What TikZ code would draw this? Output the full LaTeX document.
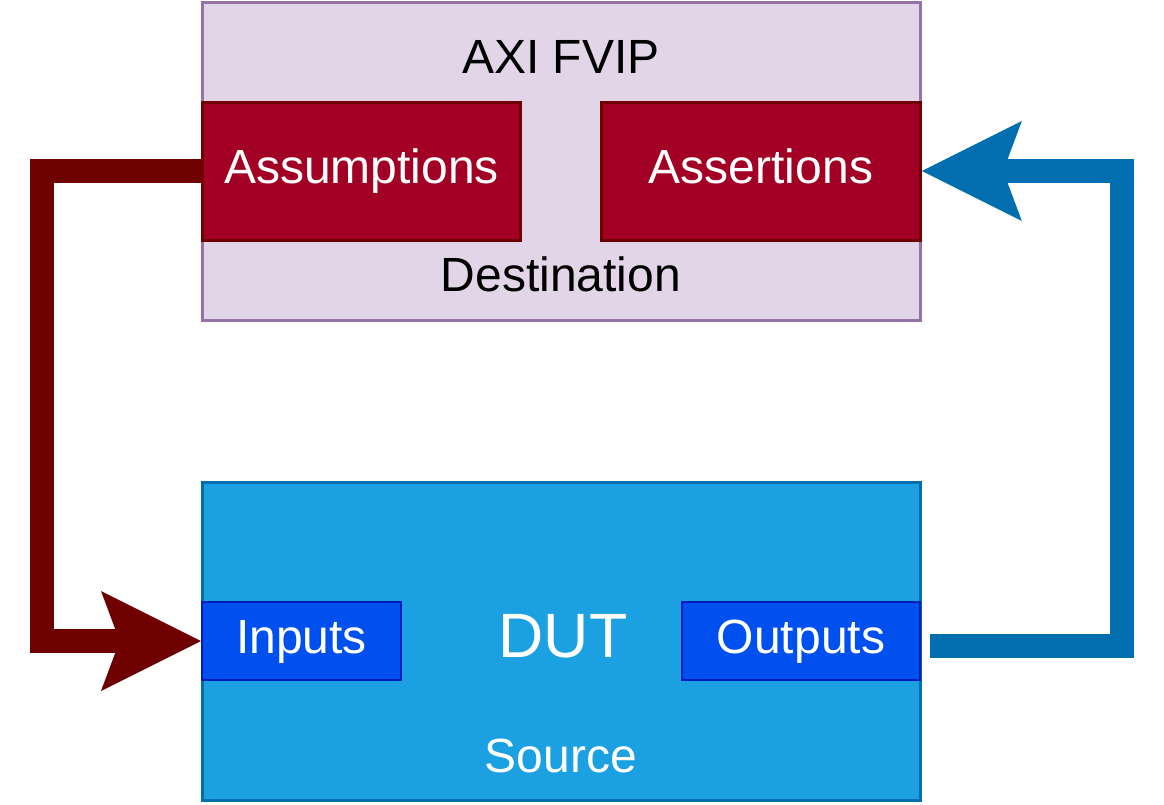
\documentclass[tikz,border=0pt]{standalone}
\usepackage{fontspec}
\setmainfont{Liberation Sans}
\usepackage{tikz}
\usetikzlibrary{arrows.meta}

\definecolor{fvipfill}{HTML}{E1D5E7}
\definecolor{fvipline}{HTML}{9673A6}
\definecolor{redfill}{HTML}{A20025}
\definecolor{redline}{HTML}{6F0000}
\definecolor{dutfill}{HTML}{1BA1E2}
\definecolor{dutline}{HTML}{006EAF}
\definecolor{portfill}{HTML}{0050EF}
\definecolor{portline}{HTML}{001DBC}

\tikzset{
  bigbox/.style={draw, line width=2.25pt, minimum width=538.5pt, minimum height=238.5pt},
  checkbox/.style={draw=redline, fill=redfill, text=white, line width=2.25pt, minimum width=239pt, minimum height=103.5pt, text height=26pt, text depth=7.5pt, font=\fontsize{36}{43}\selectfont},
  portbox/.style={draw=portline, fill=portfill, text=white, line width=1.5pt, minimum height=58.5pt, text height=26pt, text depth=7.5pt, font=\fontsize{36}{43}\selectfont},
  boxlabel/.style={anchor=base, font=\fontsize{36}{43}\selectfont},
  loopline/.style={line width=18pt, -{Stealth[length=75pt, width=75pt, inset=14pt, line width=0pt]}}
}

\begin{document}
\begin{tikzpicture}[x=0.75pt, y=-0.75pt]
        \useasboundingbox (0,0) rectangle (1164,804);
        \node[bigbox, draw=fvipline, fill=fvipfill] (fvip) at (561,161) {};
        \node[bigbox, draw=dutline, fill=dutfill] (dut) at (561,641) {};
        \node[boxlabel] (fviptitle) at (561,73) {AXI FVIP};
        \node[boxlabel] (dest) at (561,291) {Destination};
        \node[boxlabel, text=white, font=\fontsize{47}{56}\selectfont] (duttitle) at (563,657) {DUT};
        \node[boxlabel, text=white] (src) at (561,772) {Source};
        \node[checkbox] (assum) at (361.5,171) {Assumptions};
        \node[checkbox] (assert) at (761,171) {Assertions};
        \node[portbox, minimum width=149.25pt] (inputs) at (301.5,641) {Inputs};
        \node[portbox, minimum width=178.5pt] (outputs) at (801,641) {Outputs};
        \coordinate (outstart) at ([shift={(9,5)}]outputs.east);
        \draw[loopline, redline] (assum.west) -- ++(-159,0) |- (inputs.west);
        \draw[loopline, dutline] (outstart) -- ++(192,0) |- (assert.east);
    \end{tikzpicture}
\end{document}
